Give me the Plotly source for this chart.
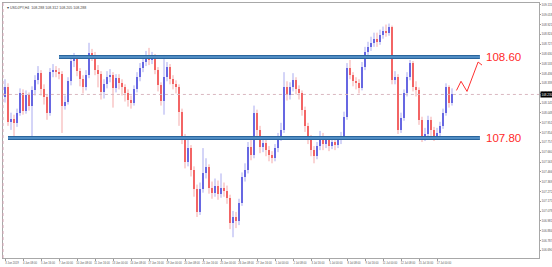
import plotly.graph_objects as go

# ---------------- data (USDJPY, H4) ----------------
open_ = [108.20,108.30,107.96,107.99,107.95,108.05,108.24,108.07,108.22,108.12,
         108.27,108.37,108.44,108.28,108.20,108.05,108.45,108.47,108.45,108.43,
         108.12,108.16,108.36,108.56,108.58,108.46,108.38,108.30,108.42,108.64,
         108.62,108.47,108.43,108.25,108.33,108.40,108.42,108.29,108.39,108.34,
         108.30,108.24,108.18,108.15,108.28,108.40,108.49,108.55,108.62,108.57,
         108.60,108.47,108.32,108.17,108.40,108.50,108.38,108.33,108.30,108.06,
         107.80,107.56,107.70,107.48,107.30,107.07,107.30,107.45,107.51,107.31,
         107.26,107.33,107.25,107.31,107.28,107.21,106.96,107.02,106.98,107.16,
         107.41,107.48,107.71,107.63,108.05,107.88,107.71,107.75,107.68,107.63,
         107.60,107.70,107.81,107.88,108.30,108.22,108.30,108.37,108.28,108.24,
         108.08,107.92,107.80,107.68,107.62,107.72,107.82,107.74,107.78,107.72,
         107.76,107.73,107.78,107.82,108.01,108.49,108.42,108.36,108.34,108.29,
         108.50,108.65,108.70,108.74,108.78,108.75,108.82,108.86,108.84,108.90,
         108.37,108.40,107.88,108.00,108.24,108.40,108.54,108.30,108.27,107.98,
         107.81,107.84,107.98,107.88,107.82,107.85,107.92,108.05,108.30,108.15]
high = [108.38,108.34,108.05,108.03,108.09,108.29,108.28,108.27,108.25,108.31,
        108.42,108.51,108.47,108.33,108.23,108.49,108.53,108.51,108.49,108.46,
        108.22,108.40,108.62,108.64,108.61,108.49,108.42,108.47,108.74,108.68,
        108.65,108.52,108.46,108.38,108.46,108.48,108.45,108.43,108.43,108.38,
        108.33,108.28,108.22,108.32,108.45,108.54,108.60,108.66,108.69,108.65,
        108.63,108.50,108.35,108.62,108.55,108.53,108.42,108.37,108.33,108.09,
        107.84,107.79,107.73,107.52,107.34,107.36,107.70,107.60,107.54,107.37,
        107.40,107.38,107.45,107.36,107.33,107.24,107.08,107.07,107.20,107.46,
        107.55,107.76,107.80,108.12,108.08,107.92,107.81,107.78,107.72,107.67,
        107.74,107.85,107.95,108.45,108.36,108.35,108.44,108.40,108.32,108.27,
        108.11,107.95,107.83,107.72,107.76,107.87,107.85,107.82,107.81,107.80,
        107.79,107.82,107.86,108.06,108.54,108.57,108.45,108.40,108.38,108.55,
        108.70,108.75,108.80,108.84,108.84,108.87,108.90,108.92,108.93,108.91,
        108.46,108.43,108.05,108.28,108.45,108.57,108.56,108.36,108.30,108.01,
        107.90,108.02,108.01,107.91,107.90,107.96,108.09,108.34,108.32,108.29]
low = [108.15,107.92,107.88,107.81,107.91,108.02,108.03,108.04,108.07,107.80,
       108.22,108.33,108.22,108.13,107.98,108.02,108.40,108.40,108.38,107.85,
       108.08,108.13,108.32,108.50,108.41,108.31,108.24,108.27,108.39,108.56,
       108.42,108.30,108.18,108.19,108.29,108.35,108.10,108.25,108.28,108.22,
       108.16,108.11,108.09,108.12,108.25,108.36,108.45,108.51,108.52,108.53,
       108.43,108.26,108.12,108.03,108.36,108.33,108.28,108.24,107.92,107.74,
       107.50,107.52,107.42,107.22,107.02,107.04,107.26,107.40,107.25,107.20,
       107.22,107.19,107.21,107.22,107.15,106.90,106.82,106.91,106.94,107.13,
       107.37,107.45,107.58,107.60,107.82,107.65,107.66,107.62,107.57,107.55,
       107.57,107.66,107.77,107.85,108.17,108.18,108.26,108.23,108.18,108.02,
       107.86,107.74,107.62,107.55,107.59,107.68,107.68,107.70,107.67,107.69,
       107.68,107.70,107.74,107.79,107.98,108.38,108.31,108.28,108.24,108.27,
       108.47,108.61,108.66,108.70,108.70,108.72,108.78,108.80,108.81,108.33,
       108.33,107.84,107.85,107.97,108.21,108.37,108.26,108.21,107.93,107.76,
       107.77,107.80,107.82,107.77,107.78,107.81,107.89,108.02,108.10,108.12]
close = [108.30,107.96,107.99,107.95,108.05,108.24,108.07,108.22,108.12,108.27,
         108.37,108.44,108.28,108.20,108.05,108.45,108.47,108.45,108.43,108.12,
         108.16,108.36,108.56,108.58,108.46,108.38,108.30,108.42,108.64,108.62,
         108.47,108.43,108.25,108.33,108.40,108.42,108.29,108.39,108.34,108.30,
         108.24,108.18,108.15,108.28,108.40,108.49,108.55,108.62,108.57,108.60,
         108.47,108.32,108.17,108.40,108.50,108.38,108.33,108.30,108.06,107.80,
         107.56,107.70,107.48,107.30,107.07,107.30,107.45,107.51,107.31,107.26,
         107.33,107.25,107.31,107.28,107.21,106.96,107.02,106.98,107.16,107.41,
         107.48,107.71,107.63,108.05,107.88,107.71,107.75,107.68,107.63,107.60,
         107.70,107.81,107.88,108.30,108.22,108.30,108.37,108.28,108.24,108.08,
         107.92,107.80,107.68,107.62,107.72,107.82,107.74,107.78,107.72,107.76,
         107.73,107.78,107.82,108.01,108.49,108.42,108.36,108.34,108.29,108.50,
         108.65,108.70,108.74,108.78,108.75,108.82,108.86,108.84,108.90,108.37,
         108.40,107.88,108.00,108.24,108.40,108.54,108.30,108.27,107.98,107.81,
         107.84,107.98,107.88,107.82,107.85,107.92,108.05,108.30,108.15,108.23]
bar_index = list(range(len(close)))

# support / resistance levels (value, first bar, last bar)
level_values = [108.60, 107.80]
level_labels = ["108.60", "107.80"]
level_start = [18, 1]
level_end = [158.3, 158.3]

# projected path
proj_x = [150.5, 152.0, 154.0, 157.7, 159.0]
proj_y = [108.27, 108.36, 108.26, 108.55, 108.52]

# axis ticks
x_tickvals = [0, 6, 12, 18, 24, 30, 36, 42, 48, 54, 60, 66, 72, 78, 84, 90,
              96, 102, 108, 114, 120, 126, 132, 138, 144]
x_ticktext = ["3 Jun 2019", "4 Jun 08:00", "5 Jun 16:00", "7 Jun 00:00",
              "10 Jun 08:00", "11 Jun 16:00", "13 Jun 00:00", "14 Jun 08:00",
              "17 Jun 16:00", "19 Jun 00:00", "20 Jun 08:00", "21 Jun 16:00",
              "25 Jun 00:00", "26 Jun 08:00", "27 Jun 16:00", "1 Jul 00:00",
              "2 Jul 08:00", "3 Jul 16:00", "5 Jul 00:00", "8 Jul 08:00",
              "9 Jul 16:00", "11 Jul 00:00", "12 Jul 08:00", "15 Jul 16:00",
              "17 Jul 00:00"]
y_tickvals = [109.115, 109.018, 108.921, 108.824, 108.727, 108.630, 108.533,
              108.436, 108.339, 108.242, 108.145, 108.048, 107.951, 107.854,
              107.757, 107.660, 107.563, 107.466, 107.369, 107.272, 107.175,
              107.078, 106.981, 106.884, 106.787, 106.690]
y_ticktext = ["%.3f" % v for v in y_tickvals]

title_text = "\u25be USDJPY,H4  108.288 108.312 108.205 108.288"

# ---------------- figure ----------------
UP_BODY, DN_BODY = "#2424d4", "#f02020"
UP_WICK, DN_WICK = "#a9aaf0", "#f5a9a9"

fig = go.Figure()

for is_up, body_col, wick_col in [(True, UP_BODY, UP_WICK), (False, DN_BODY, DN_WICK)]:
    wx, wy, bx, bb, bh = [], [], [], [], []
    for i, o, h, l, c in zip(bar_index, open_, high, low, close):
        if (c >= o) != is_up:
            continue
        wx += [i, i, None]
        wy += [l, h, None]
        bx.append(i)
        bb.append(min(o, c))
        bh.append(max(abs(c - o), 0.008))
    fig.add_trace(go.Scatter(x=wx, y=wy, mode="lines",
                             line=dict(color=wick_col, width=1),
                             hoverinfo="skip", showlegend=False))
    fig.add_trace(go.Bar(x=bx, y=bh, base=bb, width=0.72,
                         marker=dict(color=body_col, line=dict(width=0)),
                         showlegend=False))

# current price dotted line
fig.add_trace(go.Scatter(x=[-0.7, 178], y=[close[-1], close[-1]], mode="lines",
                         line=dict(color="#d9b7c0", width=1, dash="dot"),
                         hoverinfo="skip", showlegend=False))

# level lines
for v, s, e in zip(level_values, level_start, level_end):
    fig.add_trace(go.Scatter(x=[s, e], y=[v, v], mode="lines",
                             line=dict(color="#2a659c", width=4.2),
                             hoverinfo="skip", showlegend=False))
    fig.add_trace(go.Scatter(x=[s, e], y=[v, v], mode="lines",
                             line=dict(color="#5e9bd2", width=1.6),
                             hoverinfo="skip", showlegend=False))

# projection
fig.add_trace(go.Scatter(x=proj_x, y=proj_y, mode="lines",
                         line=dict(color="#ff3030", width=1),
                         hoverinfo="skip", showlegend=False))

annotations = []
for v, t, e in zip(level_values, level_labels, level_end):
    annotations.append(dict(x=e + 1.2, y=v, xref="x", yref="y", text=t,
                            showarrow=False, xanchor="left", yanchor="middle",
                            font=dict(family="Liberation Sans", size=11.5, color="#ff2a2a")))
annotations.append(dict(x=0.004, y=0.997, xref="paper", yref="paper", text=title_text,
                        showarrow=False, xanchor="left", yanchor="top",
                        font=dict(family="Liberation Sans", size=3.6, color="#444")))
annotations.append(dict(x=1.0, y=close[-1], xref="paper", yref="y", text="%.3f" % close[-1],
                        showarrow=False, xanchor="left", yanchor="middle", xshift=1,
                        bgcolor="#000000", borderpad=0.5,
                        font=dict(family="Liberation Sans", size=3.0, color="#ffffff")))

fig.update_layout(
    width=552, height=267,
    margin=dict(l=3, r=13, t=3, b=9),
    paper_bgcolor="white", plot_bgcolor="white",
    barmode="overlay", bargap=0,
    showlegend=False,
    annotations=annotations,
    shapes=[dict(type="line", xref="paper", yref="paper", x0=0, x1=0, y0=0, y1=1,
                 line=dict(color="#d8a8b8", width=1, dash="dot"))],
)
fig.update_xaxes(range=[-0.667, 178], showgrid=False, zeroline=False,
                 showline=True, mirror=True, linecolor="#a8a8a8", linewidth=1,
                 tickmode="array", tickvals=x_tickvals, ticktext=x_ticktext,
                 tickangle=0,
                 ticks="outside", ticklen=1.5, tickcolor="#999",
                 ticklabelshift=7, ticklabelstandoff=0,
                 tickfont=dict(family="Liberation Sans", size=2.7, color="#555"),
                 automargin=False, fixedrange=True)
fig.update_yaxes(range=[106.615, 109.133], side="right", showgrid=False, zeroline=False,
                 showline=True, mirror=True, linecolor="#a8a8a8", linewidth=1,
                 tickmode="array", tickvals=y_tickvals, ticktext=y_ticktext,
                 ticks="outside", ticklen=1, tickcolor="#999",
                 ticklabelstandoff=0,
                 tickfont=dict(family="Liberation Sans", size=3.0, color="#555"),
                 automargin=False, fixedrange=True)

fig.write_html("out.html", config={"displayModeBar": False})
